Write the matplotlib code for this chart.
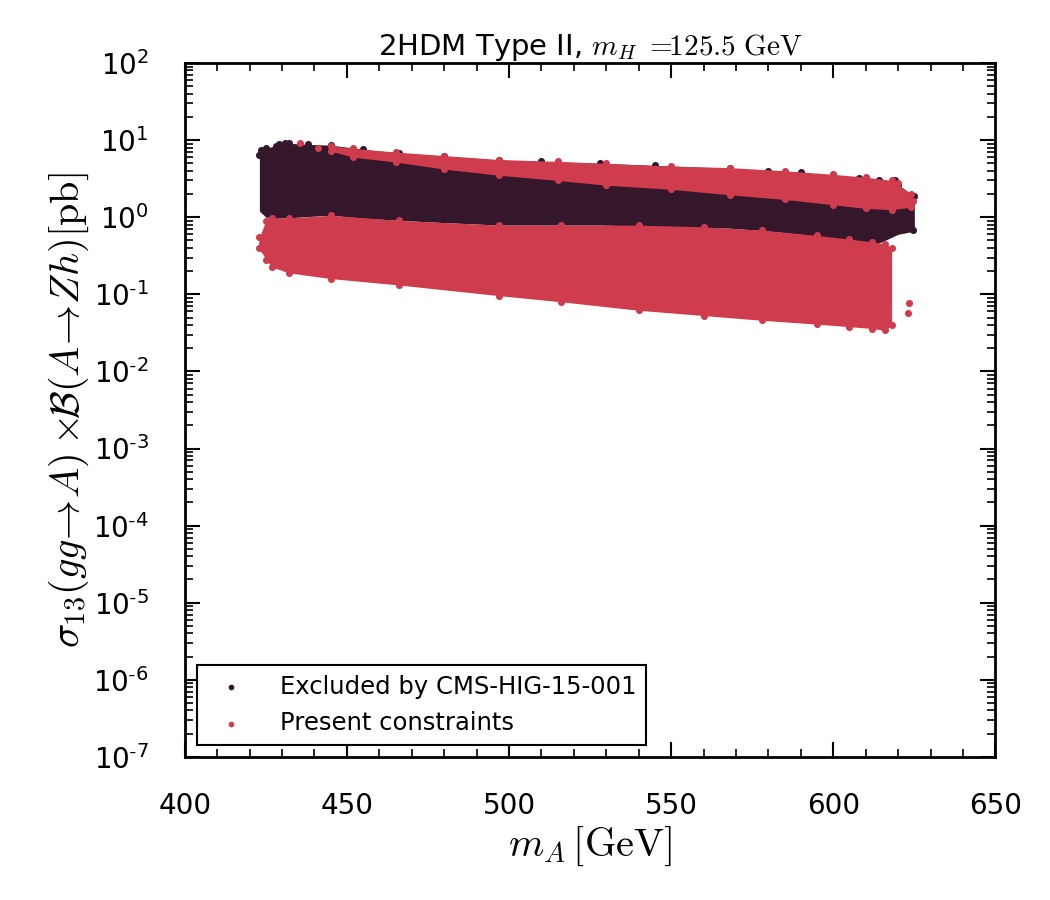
import numpy as np
import matplotlib
matplotlib.use('Agg')
import matplotlib.pyplot as plt
from matplotlib.ticker import MultipleLocator, LogLocator, NullFormatter, FuncFormatter

# colours
dark = '#35172c'
red = '#cf3c4e'

# envelope of the excluded points (dark)
dark_ma = [423, 425, 428, 432, 438, 445, 455, 466, 480, 497, 510, 528, 545, 568, 580, 590, 600, 608, 614, 620, 625]
dark_hi = [6.5, 7.8, 8.5, 9.1, 8.8, 8.6, 7.6, 6.8, 6.2, 5.5, 5.3, 5.0, 4.7, 4.3, 4.0, 3.8, 3.5, 3.2, 3.0, 2.6, 1.9]
dark_lo = [1.2, 1.0, 0.97, 0.98, 1.02, 1.06, 0.97, 0.91, 0.85, 0.79, 0.79, 0.79, 0.76, 0.72, 0.66, 0.60, 0.52, 0.48, 0.46, 0.60, 0.66]

# envelope of the allowed points (red, main band)
red_ma = [423, 425, 427, 432, 445, 466, 497, 516, 540, 560, 578, 595, 605, 612, 616, 618]
red_lo = [0.40, 0.28, 0.225, 0.19, 0.16, 0.132, 0.096, 0.080, 0.062, 0.053, 0.046, 0.041, 0.038, 0.036, 0.034, 0.040]
red_hi = [0.55, 0.90, 0.97, 0.98, 1.06, 0.91, 0.79, 0.79, 0.79, 0.75, 0.68, 0.58, 0.52, 0.48, 0.45, 0.40]

# red points lying on top of the dark band
strip_ma = [445, 452, 465, 480, 497, 515, 530, 550, 568, 585, 600, 610, 618, 624]
strip_hi = [8.4, 7.8, 7.0, 6.3, 5.6, 5.3, 5.0, 4.6, 4.4, 4.0, 3.6, 3.3, 3.0, 2.0]
strip_lo = [7.2, 6.0, 5.2, 4.2, 3.5, 3.0, 2.6, 2.3, 1.95, 1.7, 1.45, 1.3, 1.25, 1.35]

# loose points outside the bands
dark_x = [423.5, 424.0, 424.5, 425.0, 426.0, 427.5, 429.0, 431.0, 615.0, 618.0, 619.0, 620.5, 621.0, 622.0, 624.7]
dark_y = [7.4, 5.0, 3.2, 2.0, 1.5, 4.0, 8.8, 9.3, 1.0, 1.1, 3.0, 0.9, 2.2, 0.75, 0.68]
red_x = [423.8, 424.5, 426.0, 428.0, 435.5, 441.0, 617.0, 620.0, 622.0, 623.1, 623.5, 623.8, 624.5]
red_y = [0.46, 0.38, 0.30, 0.24, 9.1, 8.0, 0.37, 2.8, 2.0, 0.057, 0.077, 1.43, 1.6]

plt.rcParams['mathtext.fontset'] = 'cm'


def pow10(v, pos):
    e = int(round(np.log10(v)))
    if e < 0:
        return r'$\mathdefault{10^{\text{-}%d}}$' % (-e)
    return r'$\mathdefault{10^{%d}}$' % e


fig = plt.figure(figsize=(10.5, 9), dpi=100)
ax = fig.add_axes([0.176, 0.159, 0.772, 0.771])

ax.fill_between(dark_ma, dark_lo, dark_hi, color=dark, lw=0)
ax.scatter(dark_ma, dark_hi, s=26, color=dark, lw=0)
ax.scatter(dark_x, dark_y, s=26, color=dark, lw=0, label='Excluded by CMS-HIG-15-001')

ax.fill_between(red_ma, red_lo, red_hi, color=red, lw=0)
ax.scatter(red_ma, red_hi, s=26, color=red, lw=0)
ax.scatter(red_ma, red_lo, s=26, color=red, lw=0)
ax.fill_between(strip_ma, strip_lo, strip_hi, color=red, lw=0)
ax.scatter(strip_ma, strip_hi, s=26, color=red, lw=0)
ax.scatter(strip_ma, strip_lo, s=26, color=red, lw=0)
ax.scatter(red_x, red_y, s=26, color=red, lw=0, label='Present constraints')

ax.set_yscale('log')
ax.set_xlim(400, 650)
ax.set_ylim(1e-7, 1e2)
ax.xaxis.set_major_locator(MultipleLocator(50))
ax.xaxis.set_minor_locator(MultipleLocator(10))
ax.yaxis.set_major_locator(LogLocator(base=10, numticks=20))
ax.yaxis.set_major_formatter(FuncFormatter(pow10))
ax.yaxis.set_minor_locator(LogLocator(base=10, subs=np.arange(2, 10), numticks=20))
ax.yaxis.set_minor_formatter(NullFormatter())

ax.tick_params(which='both', direction='in', top=True, right=True, labelsize=20)
ax.tick_params(axis='x', which='major', pad=25)
ax.tick_params(axis='y', which='major', pad=26)
ax.tick_params(which='major', length=11, width=1.5)
ax.tick_params(which='minor', length=5.5, width=1.2)
for s in ax.spines.values():
    s.set_linewidth(2)

ax.set_xlabel(r'$m_A\,[\mathrm{GeV}]$', fontsize=29, labelpad=4)
ax.set_ylabel(r'$\sigma_{13}(gg\!\to\!A)\times\!\!\mathcal{B}(A\!\to\!Zh)[\mathrm{pb}]$',
              fontsize=29, labelpad=2)
ax.set_title(r'2HDM Type II, $m_H\ =\!\!125.5\ \mathrm{GeV}$', fontsize=21, pad=6)

leg = ax.legend(loc='lower left', fontsize=17.5, frameon=True, fancybox=False, framealpha=1,
                markerscale=0.8, handletextpad=1.0, borderpad=0.4,
                bbox_to_anchor=(0.0, 0.0))
leg.get_frame().set_edgecolor('black')
leg.get_frame().set_linewidth(1.5)

fig.savefig('out.png', dpi=100)
